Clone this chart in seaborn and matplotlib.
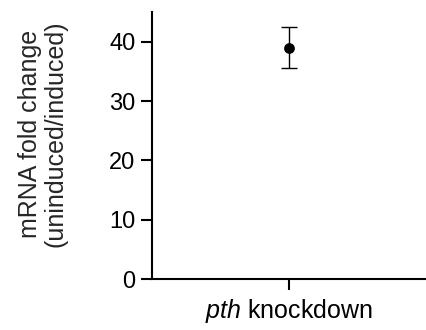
import matplotlib
matplotlib.use("Agg")
import matplotlib.pyplot as plt
import seaborn as sns
import pandas as pd

categories = ["pth knockdown"]
fold_change = [39.0]
error = [3.5]
tick_labels = [r"$\mathit{pth}$ knockdown"]
y_ticks = [0, 10, 20, 30, 40]

sns.set_theme(style="ticks")
plt.rcParams["font.family"] = ["Liberation Sans", "DejaVu Sans"]
plt.rcParams["mathtext.fontset"] = "custom"
plt.rcParams["mathtext.it"] = "Liberation Sans:italic"
plt.rcParams["mathtext.rm"] = "Liberation Sans"

df = pd.DataFrame({"cat": categories, "val": fold_change, "err": error})

fig = plt.figure(figsize=(4.27, 3.30), dpi=100)
ax = fig.add_axes([0.356, 0.1545, 0.642, 0.809])

ax.errorbar(x=range(len(df)), y=df["val"], yerr=df["err"], fmt="none",
            ecolor="black", elinewidth=1.0, capsize=6, capthick=1.0, zorder=2)
sns.scatterplot(data=df, x="cat", y="val", color="black", s=60,
                edgecolor="black", linewidth=0, ax=ax, zorder=3)

ax.set_xlim(-0.5, 0.5)
ax.set_ylim(0, 45)
ax.set_yticks(y_ticks)
ax.set_xticks(range(len(categories)))
ax.set_xticklabels(tick_labels)
ax.set_xlabel("")
ax.set_ylabel("mRNA fold change\n(uninduced/induced)", fontsize=18, linespacing=1.05)
ax.yaxis.set_label_coords(-0.31, 0.543)

for s in ["top", "right"]:
    ax.spines[s].set_visible(False)
for s in ["left", "bottom"]:
    ax.spines[s].set_linewidth(1.5)
    ax.spines[s].set_color("black")
ax.tick_params(axis="both", direction="out", length=8, width=1.5, colors="black",
               labelsize=17, pad=4)
ax.tick_params(axis="x", labelsize=18, pad=5)

fig.savefig("out.png", dpi=100)
